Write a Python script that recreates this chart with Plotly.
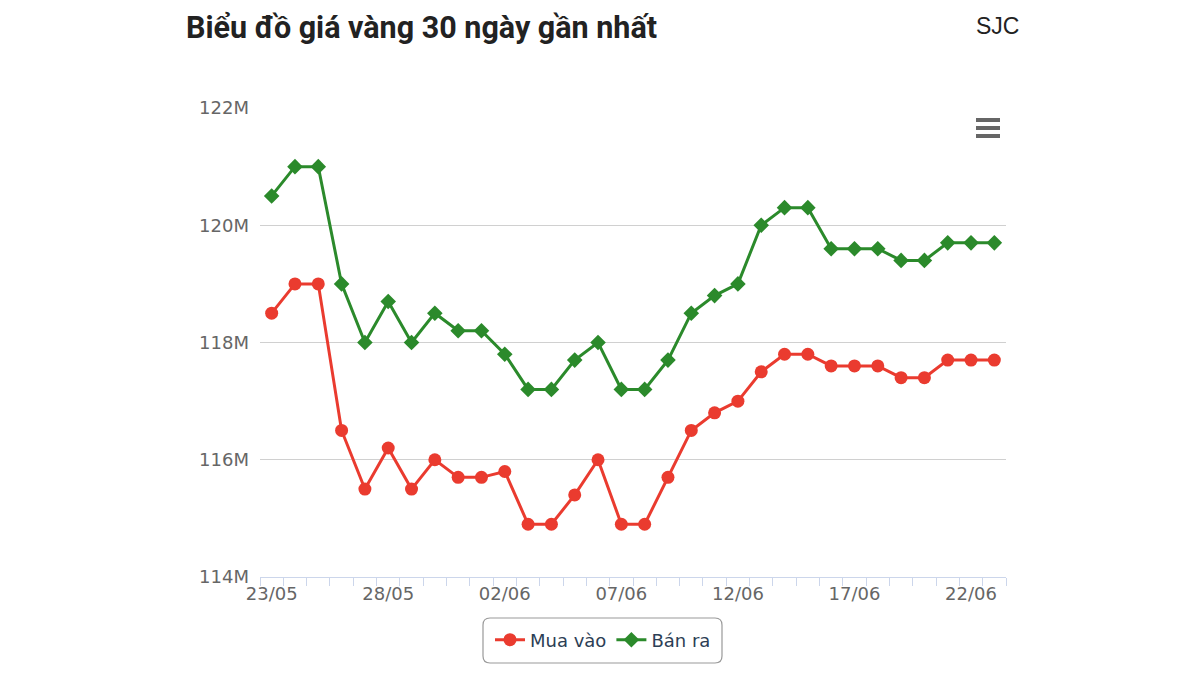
import plotly.graph_objects as go

dates = ["2025-05-23", "2025-05-24", "2025-05-25", "2025-05-26", "2025-05-27", "2025-05-28",
         "2025-05-29", "2025-05-30", "2025-05-31", "2025-06-01", "2025-06-02", "2025-06-03",
         "2025-06-04", "2025-06-05", "2025-06-06", "2025-06-07", "2025-06-08", "2025-06-09",
         "2025-06-10", "2025-06-11", "2025-06-12", "2025-06-13", "2025-06-14", "2025-06-15",
         "2025-06-16", "2025-06-17", "2025-06-18", "2025-06-19", "2025-06-20", "2025-06-21",
         "2025-06-22", "2025-06-23"]

mua_vao = [118.5, 119.0, 119.0, 116.5, 115.5, 116.2, 115.5, 116.0, 115.7, 115.7, 115.8, 114.9,
           114.9, 115.4, 116.0, 114.9, 114.9, 115.7, 116.5, 116.8, 117.0, 117.5, 117.8, 117.8,
           117.6, 117.6, 117.6, 117.4, 117.4, 117.7, 117.7, 117.7]

ban_ra = [120.5, 121.0, 121.0, 119.0, 118.0, 118.7, 118.0, 118.5, 118.2, 118.2, 117.8, 117.2,
          117.2, 117.7, 118.0, 117.2, 117.2, 117.7, 118.5, 118.8, 119.0, 120.0, 120.3, 120.3,
          119.6, 119.6, 119.6, 119.4, 119.4, 119.7, 119.7, 119.7]

y_ticks = [114, 116, 118, 120, 122]
y_tick_text = ["114M", "116M", "118M", "120M", "122M"]

title_text = "Biểu đồ giá vàng 30 ngày gần nhất"
brand_text = "SJC"

RED = "#ea3b2f"
GREEN = "#2b8a2b"

OFF = 8  # page body margin
W, H = 1200, 675
# plot area in page coordinates
PL, PR, PT, PB = 260, 1006, 108, 577
L = PL - OFF
T = PT - OFF
R = W - (PR - OFF)
B = H - (PB - OFF)
PW, PH = PR - PL, PB - PT


def px(x):
    return (x - PL) / PW


def py(y):
    return (PB - y) / PH


fig = go.Figure()
fig.add_trace(go.Scatter(
    x=dates, y=mua_vao, name="Mua vào", mode="lines+markers",
    line=dict(color=RED, width=3),
    marker=dict(symbol="circle", size=13, color=RED),
))
fig.add_trace(go.Scatter(
    x=dates, y=ban_ra, name="Bán ra", mode="lines+markers",
    line=dict(color=GREEN, width=3),
    marker=dict(symbol="diamond", size=12, color=GREEN),
))

fig.update_layout(
    width=W, height=H,
    margin=dict(l=L, r=R, t=T, b=B),
    paper_bgcolor="white", plot_bgcolor="white",
    font=dict(family="DejaVu Sans", size=18, color="#666666"),
    showlegend=True,
    legend=dict(
        orientation="h", x=px(603), xanchor="center", y=py(640), yanchor="middle",
        borderwidth=0, bgcolor="rgba(0,0,0,0)",
        font=dict(family="DejaVu Sans", size=18, color="#2c3e55"),
        itemwidth=30,
    ),
    xaxis=dict(
        type="date",
        range=["2025-05-22 12:00", "2025-06-23 12:00"],
        tick0="2025-05-23", dtick=5 * 86400000, tickformat="%d/%m",
        ticks="", showgrid=False, zeroline=False,
        showline=True, linecolor="#ccd6eb", linewidth=1,
        tickfont=dict(family="DejaVu Sans", size=18, color="#666666"),
        minor=dict(ticks="outside", tick0="2025-05-22 12:00", dtick=86400000,
                   ticklen=8, tickcolor="#ccd6eb", tickwidth=1, showgrid=False),
    ),
    yaxis=dict(
        range=[114, 122], tickvals=y_ticks, ticktext=y_tick_text,
        showgrid=True, gridcolor="#d0d0d0", gridwidth=1,
        zeroline=False, showline=False, ticks="", ticklabelstandoff=10,
        tickfont=dict(family="DejaVu Sans", size=18, color="#666666"),
    ),
)

fig.add_annotation(
    xref="paper", yref="paper", x=px(184), y=py(28), xanchor="left", yanchor="middle",
    text="<b>" + title_text + "</b>", showarrow=False,
    font=dict(family="Roboto", size=30.5, color="#222222"),
)
fig.add_annotation(
    xref="paper", yref="paper", x=px(1021), y=py(26), xanchor="right", yanchor="middle",
    text=brand_text, showarrow=False,
    font=dict(family="Liberation Sans", size=23, color="#222222"),
)

for yy in (120, 128, 136):
    fig.add_shape(type="line", xref="paper", yref="paper",
                  x0=px(976), x1=px(1000), y0=py(yy), y1=py(yy),
                  line=dict(color="#666666", width=4))

# rounded legend border
x0, x1, y0, y1, r = px(483), px(722), py(618), py(663), 7
rx, ry = r / PW, r / PH
path = (f"M {x0+rx},{y0} L {x1-rx},{y0} Q {x1},{y0} {x1},{y0-ry} "
        f"L {x1},{y1+ry} Q {x1},{y1} {x1-rx},{y1} "
        f"L {x0+rx},{y1} Q {x0},{y1} {x0},{y1+ry} "
        f"L {x0},{y0-ry} Q {x0},{y0} {x0+rx},{y0} Z")
fig.add_shape(type="path", xref="paper", yref="paper", path=path,
              line=dict(color="#999999", width=1.2), fillcolor="rgba(0,0,0,0)")

fig.write_html("out.html", config={"displayModeBar": False})
